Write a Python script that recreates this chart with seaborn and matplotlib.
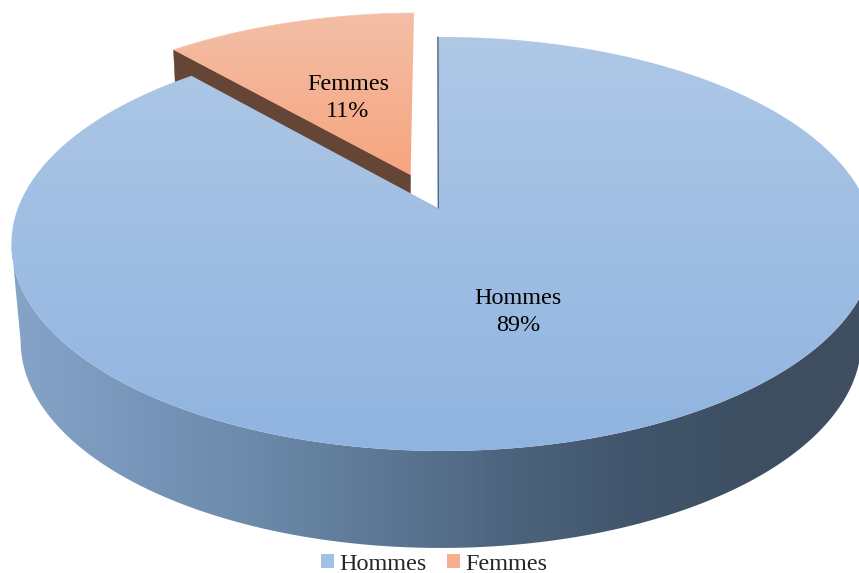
import numpy as np
import matplotlib
matplotlib.use("Agg")
import matplotlib.pyplot as plt
from matplotlib.patches import Polygon, Patch
import seaborn as sns

# ---- data -----------------------------------------------------------------
names = ["Hommes", "Femmes"]
shares = [88.6, 11.4]
shown_pct = [round(s) for s in shares]

# ---- style ----------------------------------------------------------------
top_blue = ["#aec8e6", "#90b4e0"]
top_salmon = ["#f3bfa7", "#f7a47e"]
wall_blue = ["#86a4c7", "#7896ba", "#6b89a9", "#5c7795", "#4d647e",
             "#41566c", "#3d4e60", "#404f60"]
wall_brown = "#644536"
legend_cols = ["#a2c0e4", "#f6ae8e"]

sns.set_theme(style="white")
plt.rcParams["font.family"] = ["Liberation Serif", "DejaVu Serif"]
FS = 17.4

# ---- perspective of the tilted disc (pixel-based canvas) --------------------
B = 0.1739
def upper(u, v):
    d = 1 + B * v
    return 443 + 425 * u / d, 208 - 200.7 * v / d
def lower(u, v):
    d = 1 + B * v
    return 441 + 414 * u / d, 305 - 200.7 * v / d

PIE_U = -0.012
START = -0.9
sweeps = np.array(shares) / sum(shares) * 360
bounds = START + np.concatenate([[0], np.cumsum(sweeps)])

def wedge(proj, a0, a1, off=(0, 0)):
    t = np.radians(np.linspace(a0, a1, 400))
    us = np.concatenate([[PIE_U], np.sin(t)]) + off[0]
    vs = np.concatenate([[0], np.cos(t)]) + off[1]
    return np.column_stack(proj(us, vs))

def gradient(ax, patch, colors, extent, horizontal=False):
    cmap = sns.blend_palette(colors, n_colors=256, as_cmap=True)
    g = np.linspace(0, 1, 256)
    g = g[None, :] if horizontal else g[:, None]
    im = ax.imshow(g, cmap=cmap, extent=extent, origin="upper",
                   aspect="auto", interpolation="bilinear", zorder=patch.get_zorder())
    im.set_clip_path(patch)
    return im

fig = plt.figure(figsize=(8.59, 5.73), dpi=100)
ax = fig.add_axes([0, 0, 1, 1])

# Femmes slice: exploded outwards along its bisector
mid = np.radians((bounds[1] + bounds[2]) / 2)
EXPL = 0.182
off = (EXPL * np.sin(mid), EXPL * np.cos(mid))

t_cut = np.radians(bounds[1])
apex_u, apex_v = PIE_U + off[0], off[1]
rim_u, rim_v = np.sin(t_cut) + off[0], np.cos(t_cut) + off[1]
wall_f = np.array([upper(rim_u, rim_v), upper(apex_u, apex_v),
                   lower(apex_u, apex_v), lower(rim_u, rim_v)])
ax.add_patch(Polygon(wall_f, closed=True, fc=wall_brown, ec=wall_brown, lw=0.3, zorder=1))

pts_f = wedge(upper, bounds[1], bounds[2], off)
p_f = Polygon(pts_f, closed=True, fc="none", ec="none", zorder=2)
ax.add_patch(p_f)
gradient(ax, p_f, top_salmon, (150, 420, 178, 10))
ax.plot(pts_f[1:, 0], pts_f[1:, 1], color="#f3c8b4", lw=0.5, zorder=2.1)

# Hommes side wall: front of the cylinder, between the two visible rims
t = np.radians(np.linspace(100, 260, 800))
wall_pts = np.vstack([np.column_stack(upper(np.sin(t), np.cos(t))),
                      np.column_stack(lower(np.sin(t), np.cos(t)))[::-1]])
p_w = Polygon(wall_pts, closed=True, fc="none", ec="none", zorder=3)
ax.add_patch(p_w)
gradient(ax, p_w, wall_blue, (10, 880, 560, 200), horizontal=True)

# Hommes top face
pts_h = wedge(upper, bounds[0], bounds[1])
p_h = Polygon(pts_h, closed=True, fc="none", ec="none", zorder=4)
ax.add_patch(p_h)
gradient(ax, p_h, top_blue, (0, 880, 451, 37))

# thin dark inner edge along the opening
ax.plot([pts_h[1, 0] + 0.6, pts_h[0, 0] + 0.4], [pts_h[1, 1], pts_h[0, 1]],
        color="#4c5f74", lw=0.9, zorder=5)

# ---- labels ----------------------------------------------------------------
ax.text(518, 312, f"{names[0]}\n{shown_pct[0]}%", ha="center", va="center",
        fontsize=FS, color="black", linespacing=1.34, zorder=6)
ax.text(348, 98, f"{names[1]}\n{shown_pct[1]}%", ha="center", va="center",
        fontsize=FS, color="black", linespacing=1.34, zorder=6)

handles = [Patch(fc=c, ec="none") for c in legend_cols]
ax.legend(handles, names, ncol=2, loc="center", bbox_to_anchor=(434 / 859, 1 - 564 / 573),
          frameon=False, fontsize=FS, handlelength=0.55, handleheight=0.55,
          handletextpad=0.2, columnspacing=0.85, borderpad=0, borderaxespad=0)

ax.set_xlim(0, 859)
ax.set_ylim(573, 0)
ax.set_axis_off()
fig.savefig("out.png", dpi=100)
